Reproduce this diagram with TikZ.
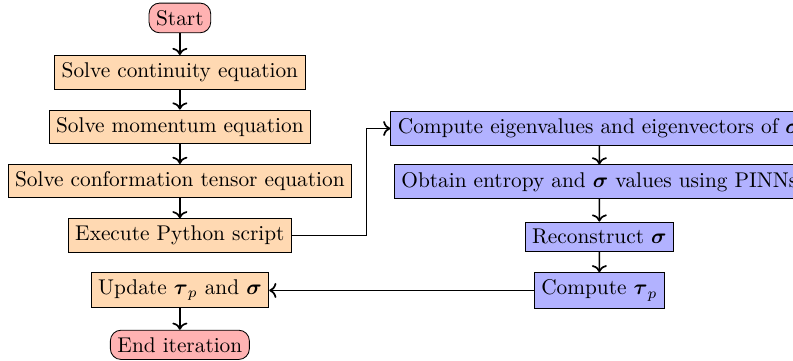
\documentclass[tikz,border=0pt]{standalone}
\usepackage{amsmath,amsbsy}
\usepackage{xcolor}
\usepackage{tikz}
\usetikzlibrary{arrows.meta, positioning, calc}
\tikzset{
  termbox/.style ={rectangle, rounded corners=5pt, draw=black, fill=red!30, align=center},
  solvebox/.style={rectangle, draw=black, fill=orange!30, align=center},
  pinnbox/.style ={rectangle, draw=black, fill=blue!30, align=center},
  flowarr/.style ={->, thick},
}
\begin{document}
\begin{tikzpicture}[scale=0.985]
  \useasboundingbox (-3.01,0) rectangle (10.26,-6.03);
  % left column: solver loop
  \node[termbox]  (start) at (0,-0.30) {Start};
  \node[solvebox] (cont)  at (0,-1.21) {Solve continuity equation};
  \node[solvebox] (mom)   at (0,-2.12) {Solve momentum equation};
  \node[solvebox] (conf)  at (0,-3.03) {Solve conformation tensor equation};
  \node[solvebox] (py)    at (0,-3.94) {Execute Python script};
  \node[solvebox] (upd)   at (0,-4.85) {Update $\boldsymbol{\tau}_p$ and $\boldsymbol{\sigma}$};
  \node[termbox]  (stop)  at (0,-5.77) {End iteration};
  % right column: PINN side
  \node[pinnbox] (eig)  at (7.02,-2.15) {Compute eigenvalues and eigenvectors of $\boldsymbol{\sigma}$};
  \node[pinnbox] (ent)  at (7.02,-3.04) {Obtain entropy and $\boldsymbol{\sigma}$ values using PINNs};
  \node[pinnbox] (rec)  at (7.02,-3.96) {Reconstruct $\boldsymbol{\sigma}$};
  \node[pinnbox] (ctau) at (7.02,-4.86) {Compute $\boldsymbol{\tau}_p$};
  % flow
  \draw[flowarr] (start) -- (cont);
  \draw[flowarr] (cont) -- (mom);
  \draw[flowarr] (mom) -- (conf);
  \draw[flowarr] (conf) -- (py);
  \draw[flowarr] (upd) -- (stop);
  \draw[flowarr] (py.east) -| ([xshift=-0.4cm]eig.west) -- (eig.west);
  \draw[flowarr] (eig) -- (ent);
  \draw[flowarr] (ent) -- (rec);
  \draw[flowarr] (rec) -- (ctau);
  \draw[flowarr] (ctau.west) -- (ctau.west -| upd.east);
\end{tikzpicture}
\end{document}
